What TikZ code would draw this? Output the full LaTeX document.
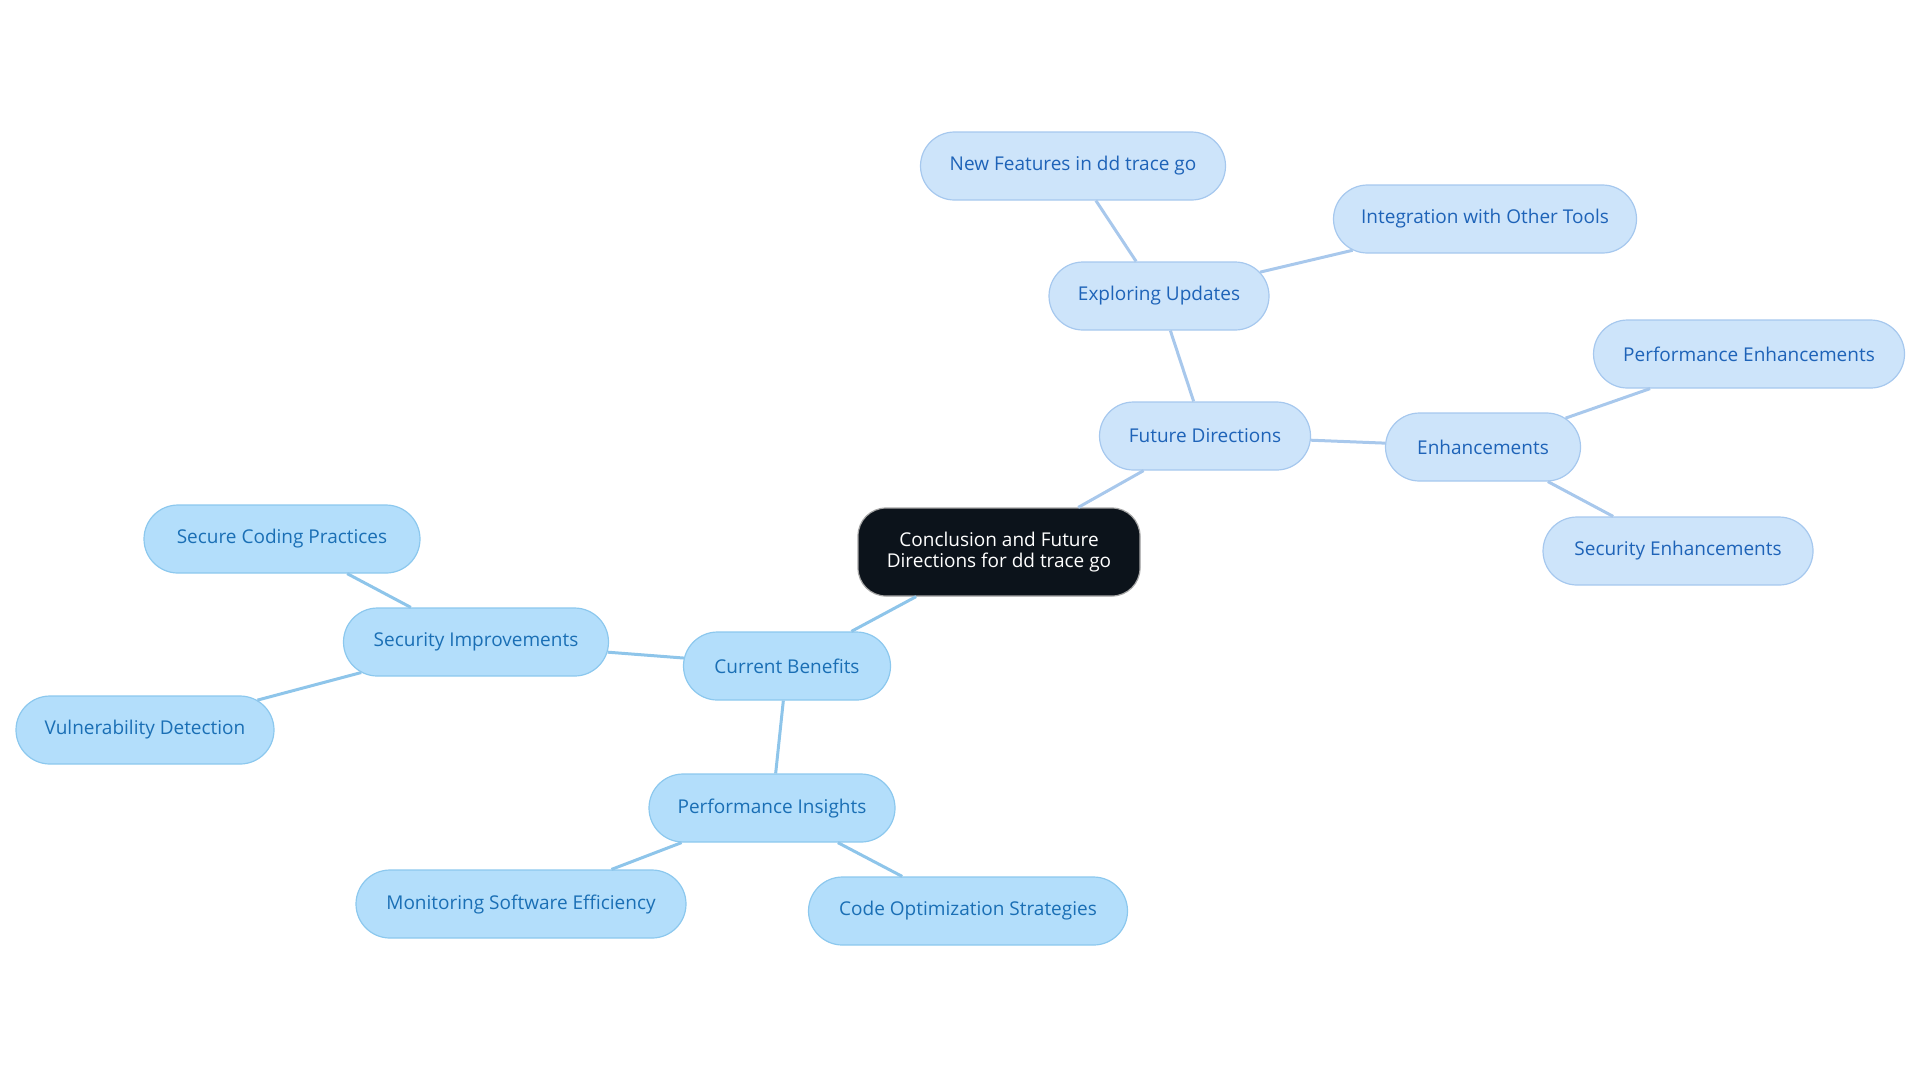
\documentclass[tikz,border=0pt]{standalone}
\usepackage{fontspec}
\setmainfont{Open Sans}
\usetikzlibrary{positioning, shapes.misc}
\definecolor{rootfill}{HTML}{0C131B}
\definecolor{curfill}{HTML}{B3DEFB}
\definecolor{curdraw}{HTML}{8CC8EE}
\definecolor{curtext}{HTML}{1A6FB5}
\definecolor{curedge}{HTML}{8EC5EA}
\definecolor{futfill}{HTML}{CDE4FA}
\definecolor{futdraw}{HTML}{A6C8EE}
\definecolor{futtext}{HTML}{1E63B8}
\definecolor{futedge}{HTML}{A8C8EC}
\tikzset{
  topic/.style={
    rounded rectangle,
    minimum height=34pt,
    inner xsep=2pt,
    align=center,
    line width=0.6pt,
    font=\fontsize{9.5}{10.5}\selectfont
  },
  wd/.style={minimum width=#1*0.5pt+4pt},
  root/.style={
    rectangle,
    rounded corners=14pt,
    minimum height=44pt,
    minimum width=141pt,
    align=center,
    line width=0.6pt,
    font=\fontsize{9.5}{10.5}\selectfont,
    fill=rootfill,
    draw=gray!70,
    text=white
  },
  cur/.style={
    topic,
    fill=curfill,
    draw=curdraw,
    text=curtext
  },
  fut/.style={
    topic,
    fill=futfill,
    draw=futdraw,
    text=futtext
  },
  curline/.style={draw=curedge, line width=1.5pt},
  futline/.style={draw=futedge, line width=1.5pt}
}
\begin{document}
\begin{tikzpicture}[x=0.5pt, y=-0.5pt]
  \useasboundingbox (0,0) rectangle (1920,1083);
  \node (r0) [root] at (999,552) {Conclusion and Future\\Directions for dd trace go};

  \node (f0) [fut, wd=211] at (1205,436) {Future Directions};
  \node (f1) [fut, wd=220] at (1159,296) {Exploring Updates};
  \node (f11) [fut, wd=305] at (1073,166) {New Features in dd trace go};
  \node (f12) [fut, wd=303] at (1485,219) {Integration with Other Tools};
  \node (f2) [fut, wd=195] at (1483,447) {Enhancements};
  \node (f21) [fut, wd=311] at (1749,354) {Performance Enhancements};
  \node (f22) [fut, wd=270] at (1678,551) {Security Enhancements};

  \node (c0) [cur, wd=207] at (787,666) {Current Benefits};
  \node (c1) [cur, wd=265] at (476,642) {Security Improvements};
  \node (c11) [cur, wd=276] at (282,539) {Secure Coding Practices};
  \node (c12) [cur, wd=258] at (145,730) {Vulnerability Detection};
  \node (c2) [cur, wd=246] at (772,808) {Performance Insights};
  \node (c21) [cur, wd=330] at (521,904) {Monitoring Software Efficiency};
  \node (c22) [cur, wd=319] at (968,911) {Code Optimization Strategies};

  \draw [futline] (r0) -- (f0);
  \draw [futline] (f0) -- (f1);
  \draw [futline] (f1) -- (f11);
  \draw [futline] (f1) -- (f12);
  \draw [futline] (f0) -- (f2);
  \draw [futline] (f2) -- (f21);
  \draw [futline] (f2) -- (f22);

  \draw [curline] (r0) -- (c0);
  \draw [curline] (c0) -- (c1);
  \draw [curline] (c1) -- (c11);
  \draw [curline] (c1) -- (c12);
  \draw [curline] (c0) -- (c2);
  \draw [curline] (c2) -- (c21);
  \draw [curline] (c2) -- (c22);
\end{tikzpicture}
\end{document}
